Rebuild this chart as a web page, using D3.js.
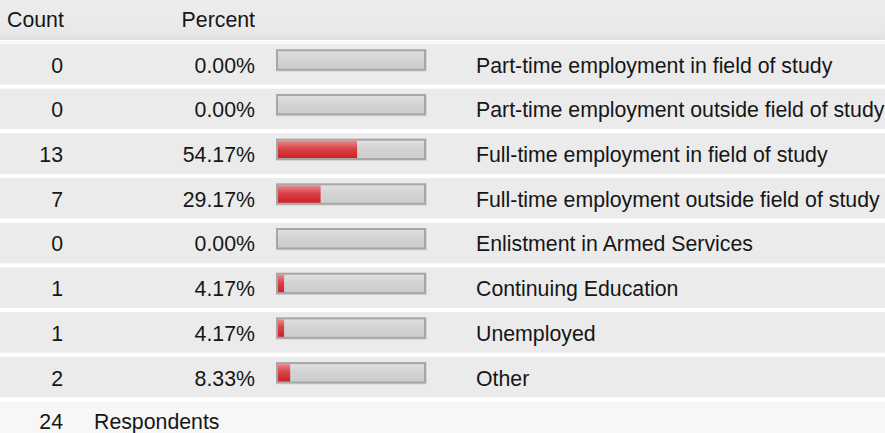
<html lang="en">
<head>
    <meta charset="UTF-8">
    <title>Respondents</title>
    <script src="https://cdn.jsdelivr.net/npm/d3@7"></script>
    <style>
        body { margin: 0; background: #fff; }
        text { font-family: "Liberation Sans", Arial, sans-serif; font-size: 21.3px; fill: #161616; }
    </style>
</head>
<body>
    <svg id="svg"></svg>

    <script>
        var WIDTH = 885;
        var HEIGHT = 433;

        var categories = [
            "Part-time employment in field of study",
            "Part-time employment outside field of study",
            "Full-time employment in field of study",
            "Full-time employment outside field of study",
            "Enlistment in Armed Services",
            "Continuing Education",
            "Unemployed",
            "Other"
        ];
        var counts = [0, 0, 13, 7, 0, 1, 1, 2];
        var percents = [0.00, 0.00, 54.17, 29.17, 0.00, 4.17, 4.17, 8.33];
        var headers = ["Count", "Percent"];
        var respondents = 24;

        var svg = d3.select("#svg")
                    .attr("width", WIDTH)
                    .attr("height", HEIGHT);

        var defs = svg.append("defs");

        var hdrGrad = defs.append("linearGradient").attr("id", "hdr")
                          .attr("x1", 0).attr("y1", 0).attr("x2", 0).attr("y2", 1);
        hdrGrad.append("stop").attr("offset", "0%").attr("stop-color", "#ededed");
        hdrGrad.append("stop").attr("offset", "75%").attr("stop-color", "#e9e9e9");
        hdrGrad.append("stop").attr("offset", "100%").attr("stop-color", "#dfdfdf");

        var grayGrad = defs.append("linearGradient").attr("id", "gray")
                           .attr("x1", 0).attr("y1", 0).attr("x2", 0).attr("y2", 1);
        grayGrad.append("stop").attr("offset", "0%").attr("stop-color", "#e0e0e0");
        grayGrad.append("stop").attr("offset", "45%").attr("stop-color", "#d3d3d3");
        grayGrad.append("stop").attr("offset", "100%").attr("stop-color", "#cdcdcd");

        var redGrad = defs.append("linearGradient").attr("id", "red")
                          .attr("x1", 0).attr("y1", 0).attr("x2", 0).attr("y2", 1);
        redGrad.append("stop").attr("offset", "0%").attr("stop-color", "#ea8a8c");
        redGrad.append("stop").attr("offset", "45%").attr("stop-color", "#d84448");
        redGrad.append("stop").attr("offset", "100%").attr("stop-color", "#cc2127");

        // rows
        var yScale = d3.scaleBand()
                       .domain(categories)
                       .range([44, 397.3])
                       .paddingInner(0.094)
                       .paddingOuter(0);

        // inner bar area
        var xScale = d3.scaleLinear()
                       .domain([0, 100])
                       .range([278, 424]);

        // header
        svg.append("rect")
           .attr("x", 0).attr("y", 0)
           .attr("width", WIDTH).attr("height", 40)
           .attr("fill", "url(#hdr)");
        svg.append("line")
           .attr("x1", 0).attr("x2", WIDTH)
           .attr("y1", 42.5).attr("y2", 42.5)
           .attr("stroke", "#f0f0f0");
        svg.append("text")
           .attr("x", 7).attr("y", 27.3)
           .text(headers[0]);
        svg.append("text")
           .attr("x", 255).attr("y", 27.3)
           .attr("text-anchor", "end")
           .text(headers[1]);

        var rows = svg.selectAll("g.row")
                      .data(categories)
                      .enter()
                      .append("g")
                      .attr("class", "row")
                      .attr("transform", function(d){ return "translate(0," + yScale(d) + ")"; });

        rows.append("rect")
            .attr("x", 0).attr("y", 0)
            .attr("width", WIDTH)
            .attr("height", yScale.bandwidth())
            .attr("fill", "#ebebeb");

        rows.append("text")
            .attr("x", 63).attr("y", 28.7)
            .attr("text-anchor", "end")
            .text(function(d, i){ return counts[i]; });

        rows.append("text")
            .attr("x", 255).attr("y", 28.7)
            .attr("text-anchor", "end")
            .text(function(d, i){ return percents[i].toFixed(2) + "%"; });

        // bar frame
        rows.append("rect")
            .attr("x", xScale(0) - 2).attr("y", 5.3)
            .attr("width", xScale(100) - xScale(0) + 5).attr("height", 22.3)
            .attr("fill", "#d6d6d6");
        rows.append("rect")
            .attr("x", xScale(0) - 2).attr("y", 5.3)
            .attr("width", xScale(100) - xScale(0) + 4).attr("height", 21.4)
            .attr("fill", "#a6a6a6");
        rows.append("rect")
            .attr("x", xScale(0)).attr("y", 7.3)
            .attr("width", xScale(100) - xScale(0)).attr("height", 17.4)
            .attr("fill", "url(#gray)");
        rows.append("rect")
            .attr("x", xScale(0)).attr("y", 7.3)
            .attr("width", function(d, i){ return xScale(percents[i]) - xScale(0); })
            .attr("height", 17.4)
            .attr("fill", "url(#red)");

        rows.append("text")
            .attr("x", 476).attr("y", 28.7)
            .text(function(d){ return d; });

        // footer
        svg.append("rect")
           .attr("x", 0).attr("y", 401.7)
           .attr("width", WIDTH).attr("height", HEIGHT - 401.7)
           .attr("fill", "#f7f7f7");
        svg.append("text")
           .attr("x", 63).attr("y", 429)
           .attr("text-anchor", "end")
           .text(respondents);
        svg.append("text")
           .attr("x", 94).attr("y", 429)
           .text("Respondents");
    </script>
</body>
</html>
